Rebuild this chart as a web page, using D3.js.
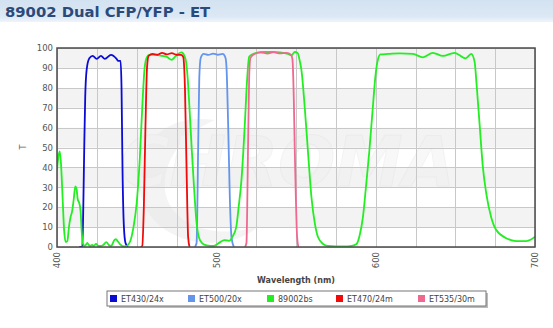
<!DOCTYPE html>
<html>
<head>
<meta charset="utf-8">
<script src="https://cdn.jsdelivr.net/npm/d3@7"></script>
<style>
  html, body { margin: 0; padding: 0; background: #fff; }
  svg { display: block; font-family: "DejaVu Sans", Verdana, sans-serif; }
</style>
</head>
<body>
<svg id="chart" width="553" height="328"></svg>
<script>
// Transmission spectra (wavelength nm, %T) for the 89002 CFP/YFP set
const et430 = [[414,0],[415.9,0],[416.5,20],[417.1,50],[417.7,75],[418.6,89],[420.3,94.8],[422.4,96],[424.9,94.5],
  [427.6,96],[430,94.5],[433.9,96.5],[437.4,94.5],[438.4,93.5],[439.9,93.5],[440.5,80],[441.1,40],[442,10],[443,2],[444.5,0]];
const et500 = [[486.5,0],[487.6,2],[488.6,50],[489.3,85],[490.2,95],[492,97],[495,96.5],[498,97.2],[501,96.6],[504,97],
  [505.3,96],[506,94],[506.4,90],[507.4,62],[508.5,24],[509.5,5],[511,0]];
const bs89002 = [[400,38.7],[401,46],[401.7,48],[402.5,42],[403.5,25],[404.5,8],[405.5,2.5],[406.5,3],[407.5,10],[408.5,15],
  [409.5,18],[410.5,24],[411.5,30.5],[412.3,29],[413,24],[414,22],[414.8,18],[415.5,8],[416.2,2],[417,0.5],[418,1],[419,2],
  [420,1],[421,0.5],[422,1],[423,0.5],[424.5,1.5],[426,0.5],[427.5,0.5],[429,1],[431,2.5],[432.5,1],[434,0.5],[436,3.5],
  [437,4],[438,3],[439.5,1.5],[441,0.5],[443,0.3],[444.5,1],[446,3],[448,10],[450,22],[452,45],[453.5,70],[455,90],
  [456.5,95.5],[458,96.5],[462,96.5],[466,96],[469,95.5],[472,94],[474,95.5],[476,97],[478.2,97.8],[480,96],[481,93],
  [482,85],[483,72],[484.5,50],[486,30],[487.5,13],[489,5],[491,2],[494,0.8],[498,0.5],[502,2.2],[505,3.5],[508,3.1],
  [510,5],[512.5,10],[514,20],[515.8,34],[517.9,62],[519.3,84],[520.6,95.6],[523,97],[525,97.5],[530,98],[535,98],
  [540,97.8],[545,97],[547,96.3],[549.3,98],[551,97.5],[552.5,93],[553.4,89],[555.5,70],[557.6,47],[559.7,25],[561.8,12],
  [563.8,5],[567,1.5],[570,0.5],[575,0.3],[580,0.3],[585,0.6],[588,1.5],[590,6],[592,15],[594,31],[596,48],[598,68],
  [600,87],[601.5,94.5],[603,96.8],[608,97],[615,97.3],[623.4,97],[629.7,95.3],[635.9,97.6],[642.2,96],[649.5,97.6],
  [656.4,94.8],[660,97],[662.1,93],[663.5,80],[665.2,62],[667.3,40],[669.4,27],[672.5,15],[675.7,8.5],[682,4.4],
  [688.2,3],[694.5,3],[697.5,3.8],[700,5.2]];
const et470 = [[452.5,0],[453.5,0.5],[454.5,20],[455.5,60],[456.5,90],[457.5,96],[460,97],[463,96.6],[466,97.6],[469,96.8],
  [472,97.4],[475,96.6],[478,96.5],[479.2,95.5],[480.3,80],[481.3,40],[482.3,5],[483.2,0]];
const et535 = [[518,0],[518.9,2],[519.9,50],[520.6,85],[521.4,95],[524,97],[528,97.8],[532,97.2],[536,97.9],[540,97.3],
  [544,97.6],[547,96.5],[547.8,94],[548.6,75],[549.2,50],[549.9,25],[550.7,5],[551.5,0]];

const seriesNames = ["ET430/24x", "ET500/20x", "89002bs", "ET470/24m", "ET535/30m"];
const seriesColors = ["#0b0bd6", "#6495ed", "#22ee22", "#f00a0a", "#f06890"];
const seriesData = [et430, et500, bs89002, et470, et535];

const xTicks = [400, 500, 600, 700];
const yTicks = [0, 10, 20, 30, 40, 50, 60, 70, 80, 90, 100];
const xGrid = d3.range(400, 701, 25);
const titleText = "89002 Dual CFP/YFP - ET";

const svg = d3.select("#chart");
const W = 553, H = 328;
const plot = { left: 57, right: 535, top: 48, bottom: 247 };

const x = d3.scaleLinear().domain([400, 700]).range([plot.left, plot.right]);
const y = d3.scaleLinear().domain([0, 100]).range([plot.bottom, plot.top]);

// Title bar
const defs = svg.append("defs");
const tg = defs.append("linearGradient").attr("id", "titleBg").attr("x1", 0).attr("y1", 0).attr("x2", 0).attr("y2", 1);
tg.append("stop").attr("offset", "0%").attr("stop-color", "#d3e2f1");
tg.append("stop").attr("offset", "75%").attr("stop-color", "#dce8f4");
tg.append("stop").attr("offset", "100%").attr("stop-color", "#eef4fa");
svg.append("rect").attr("x", 0).attr("y", 0).attr("width", W).attr("height", 22).attr("fill", "url(#titleBg)");
svg.append("text").attr("x", 5).attr("y", 16.5)
  .attr("font-size", 14.8).attr("font-weight", "bold").attr("fill", "#2b4a7c")
  .text(titleText);

// Plot background: alternating horizontal bands
const bands = svg.append("g");
yTicks.slice(0, -1).forEach((t, i) => {
  bands.append("rect")
    .attr("x", plot.left).attr("y", y(t + 10))
    .attr("width", plot.right - plot.left).attr("height", y(t) - y(t + 10))
    .attr("fill", i % 2 === 1 ? "#f3f3f3" : "#ffffff");
});

// Faint logo watermark behind the data
const wm = svg.append("g").attr("opacity", 0.4);
wm.append("path")
  .attr("d", "M215,120 C150,110 120,170 150,215 C175,250 235,250 260,225 C225,240 170,230 165,190 C162,155 190,130 215,120 Z")
  .attr("fill", "#e6e6e6");
wm.append("text").attr("x", 120).attr("y", 186)
  .attr("font-size", 70).attr("font-weight", "bold").attr("font-style", "italic")
  .attr("textLength", 335).attr("lengthAdjust", "spacingAndGlyphs")
  .attr("fill", "#efefef").attr("stroke", "#e2e2e2").attr("stroke-width", 1)
  .text("CHROMA");

// Grid lines
const grid = svg.append("g").attr("stroke", "#c8c8c8").attr("stroke-width", 1);
yTicks.forEach(t => grid.append("line")
  .attr("x1", plot.left).attr("x2", plot.right)
  .attr("y1", Math.round(y(t)) + 0.5).attr("y2", Math.round(y(t)) + 0.5));
xGrid.forEach(t => grid.append("line")
  .attr("y1", plot.top).attr("y2", plot.bottom)
  .attr("x1", Math.round(x(t)) + 0.5).attr("x2", Math.round(x(t)) + 0.5));

// Spectra
const line = d3.line().x(d => x(d[0])).y(d => y(d[1])).curve(d3.curveMonotoneX);
const clip = defs.append("clipPath").attr("id", "plotClip");
clip.append("rect").attr("x", plot.left).attr("y", plot.top - 3)
  .attr("width", plot.right - plot.left).attr("height", plot.bottom - plot.top + 3);
const lines = svg.append("g").attr("clip-path", "url(#plotClip)");
seriesData.forEach((d, i) => {
  lines.append("path").datum(d)
    .attr("d", line)
    .attr("fill", "none")
    .attr("stroke", seriesColors[i])
    .attr("stroke-width", 1.8)
    .attr("stroke-linejoin", "round");
});

// Plot frame
svg.append("rect")
  .attr("x", plot.left).attr("y", plot.top)
  .attr("width", plot.right - plot.left).attr("height", plot.bottom - plot.top)
  .attr("fill", "none").attr("stroke", "#4a4a4a").attr("stroke-width", 1.5);

// Y axis labels
const yAxis = d3.axisLeft(y).tickValues(yTicks).tickSize(0).tickPadding(4);
const yg = svg.append("g").attr("transform", `translate(${plot.left},0)`).call(yAxis);
yg.select(".domain").remove();
yg.selectAll("text").attr("font-size", 8.5).attr("fill", "#555")
  .attr("font-family", "DejaVu Sans, Verdana, sans-serif");

// X axis labels, rotated
const xAxis = d3.axisBottom(x).tickValues(xTicks).tickSize(0).tickFormat(d3.format("d"));
const xg = svg.append("g").attr("transform", `translate(0,${plot.bottom})`).call(xAxis);
xg.select(".domain").remove();
xg.selectAll("text")
  .attr("font-size", 8.5).attr("fill", "#555")
  .attr("font-family", "DejaVu Sans, Verdana, sans-serif")
  .attr("text-anchor", "end")
  .attr("transform", "rotate(-90)")
  .attr("x", -5).attr("y", 0).attr("dy", "0.35em");

// Axis titles
svg.append("text").attr("x", 296).attr("y", 282.5).attr("text-anchor", "middle")
  .attr("font-size", 8).attr("font-weight", "bold").attr("fill", "#444")
  .text("Wavelength (nm)");
svg.append("text").attr("transform", "translate(26,147) rotate(-90)").attr("text-anchor", "middle")
  .attr("font-size", 8).attr("fill", "#666").text("T");

// Legend
const legend = { x: 107, y: 291, w: 379, h: 15 };
svg.append("rect").attr("x", legend.x + 2).attr("y", legend.y + 2)
  .attr("width", legend.w).attr("height", legend.h).attr("fill", "#bbb");
svg.append("rect").attr("x", legend.x).attr("y", legend.y)
  .attr("width", legend.w).attr("height", legend.h)
  .attr("fill", "#fff").attr("stroke", "#777").attr("stroke-width", 1);
const legendX = [110, 188, 267, 336, 418];
seriesNames.forEach((name, i) => {
  const g = svg.append("g").attr("transform", `translate(${legendX[i]},${legend.y + 4})`);
  g.append("rect").attr("width", 7).attr("height", 7).attr("fill", seriesColors[i]);
  g.append("text").attr("x", 11).attr("y", 7).attr("font-size", 8).attr("fill", "#444")
    .text(name);
});
</script>
</body>
</html>
